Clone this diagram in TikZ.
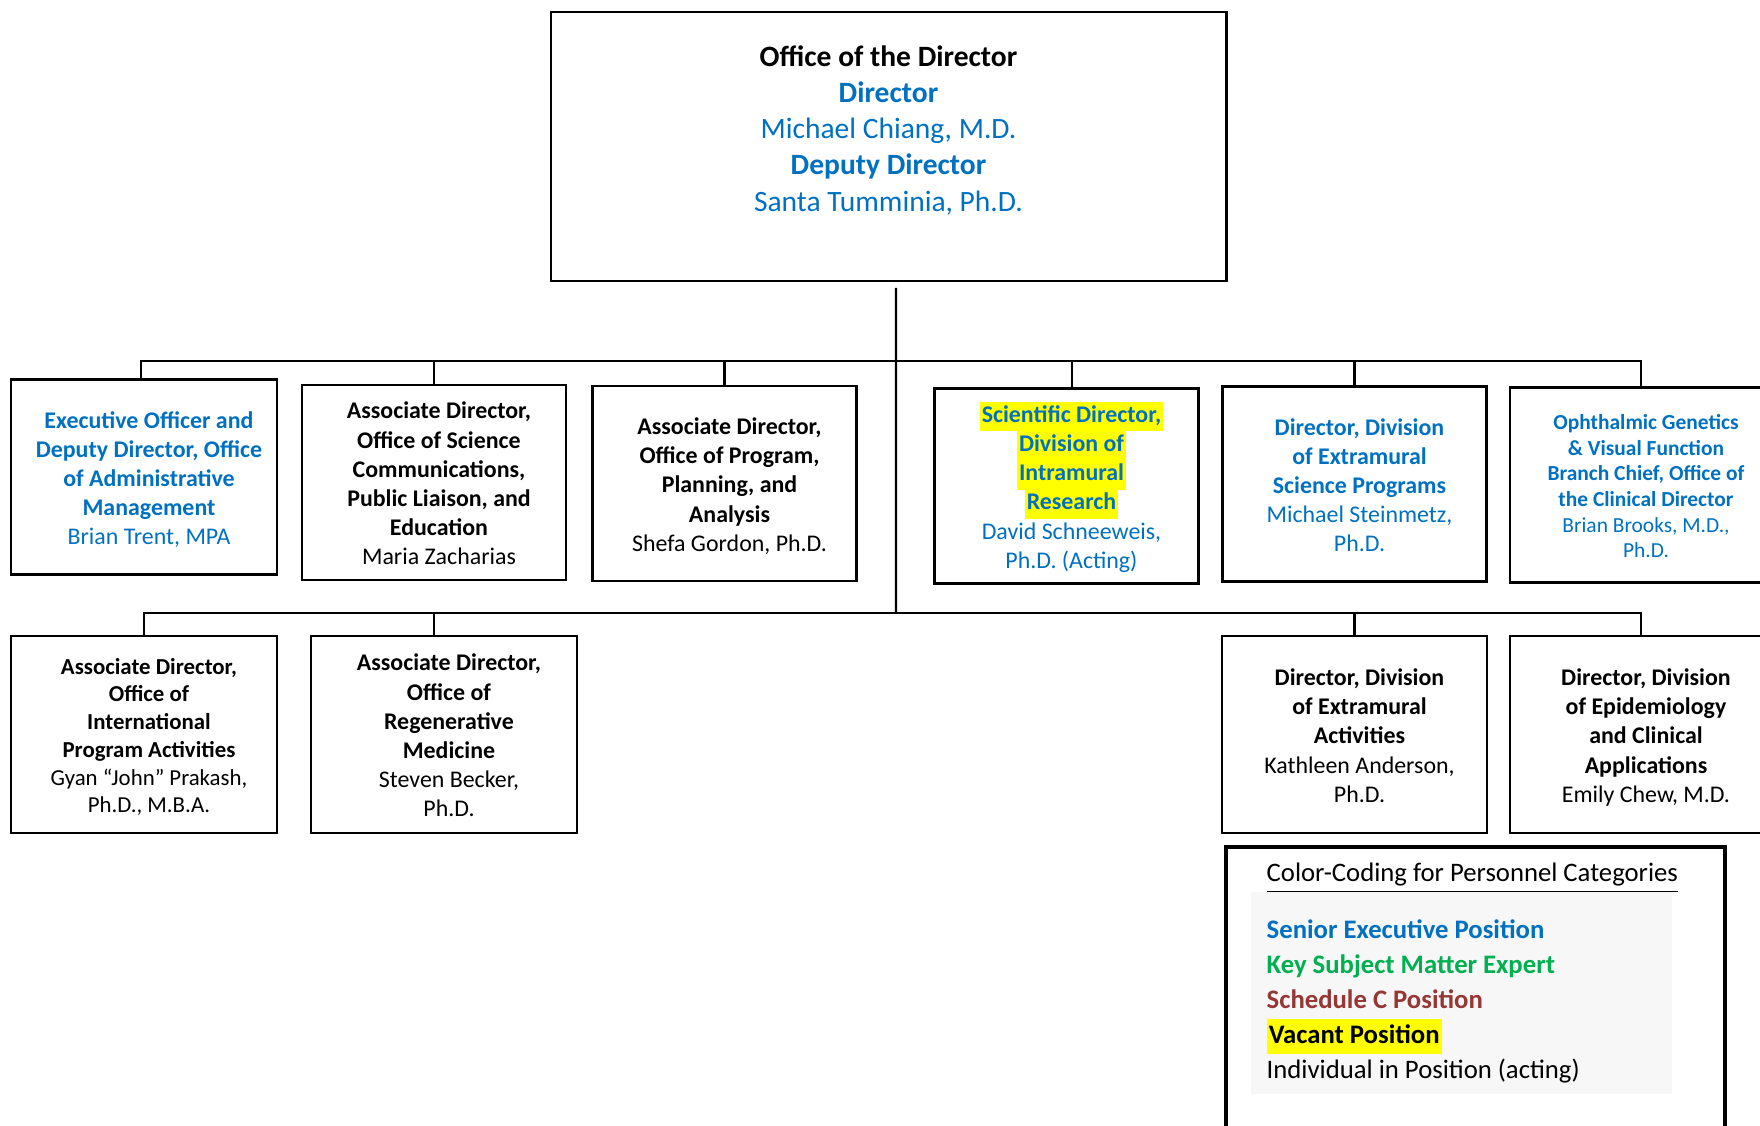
\documentclass[tikz,border=0pt]{standalone}
\usepackage{fontspec}
\setmainfont{Carlito}
\usepackage{xcolor}
\usepackage{tikz}
\usetikzlibrary{calc}
\definecolor{sesblue}{RGB}{0,112,192}
\definecolor{smegreen}{RGB}{0,176,80}
\definecolor{schedred}{RGB}{149,55,53}
\definecolor{vacyellow}{RGB}{255,255,0}
\newcommand{\vacant}[1]{{\setlength{\fboxsep}{0pt}\colorbox{vacyellow}{\strut\hspace{0.6pt}#1\hspace{0.6pt}}}}
\newcommand{\orgtext}[1]{\hspace*{1mm}\begin{tabular}{@{}c@{}}\noalign{\vskip2pt}#1\end{tabular}}
\tikzset{
	orgbox/.style={draw, line width=0.75pt, rectangle, inner sep=0pt,
		minimum width=2.64cm, minimum height=1.95cm, font={\fontsize{6.8}{8.3}\selectfont}},
	dirbox/.style={orgbox, align=center, line width=0.85pt, minimum width=6.75cm, minimum height=2.69cm,
		font={\fontsize{8.4}{10.3}\selectfont}},
	keyframe/.style={draw, line width=1.3pt, rectangle, inner sep=0pt, minimum width=4.99cm, minimum height=2.98cm},
	keytext/.style={inner sep=0pt, align=left, font={\fontsize{7.6}{9.9}\selectfont}},
	wire/.style={line width=0.7pt},
	thinwire/.style={line width=0.4pt}
}
\begin{document}
\begin{tikzpicture}
			\useasboundingbox (0.,0.) rectangle (17.6,11.25);
			
			\node[dirbox] (dir) at (8.885,9.785) {\textbf{Office of the Director}\\
				\textcolor{sesblue}{\textbf{Director}}\\
				\textcolor{sesblue}{Michael Chiang, M.D.}\\
				\textcolor{sesblue}{\textbf{Deputy Director}}\\
				\textcolor{sesblue}{Santa Tumminia, Ph.D.}\\ \mbox{}};
			
			\node[orgbox, text=sesblue, minimum width=2.66cm] (exo) at (1.44,6.48) {\orgtext{\textbf{Executive Officer and}\\
				\textbf{Deputy Director, Office}\\ \textbf{of Administrative}\\ \textbf{Management}\\ Brian Trent, MPA}};
			\node[orgbox] (osc) at (4.34,6.425) {\orgtext{\textbf{Associate Director,}\\ \textbf{Office of Science}\\
				\textbf{Communications,}\\ \textbf{Public Liaison, and}\\ \textbf{Education}\\ Maria Zacharias}};
			\node[orgbox] (oppa) at (7.245,6.415) {\orgtext{\textbf{Associate Director,}\\ \textbf{Office of Program,}\\
				\textbf{Planning, and}\\ \textbf{Analysis}\\ Shefa Gordon, Ph.D.}};
			\node[orgbox, text=sesblue] (sdir) at (10.665,6.39) {\orgtext{\vacant{\textbf{Scientific Director,}}\\
				\vacant{\textbf{Division of}}\\ \vacant{\textbf{Intramural}}\\ \vacant{\textbf{Research}}\\
				David Schneeweis,\\ Ph.D. (Acting)}};
			\node[orgbox, text=sesblue] (desp) at (13.545,6.41) {\orgtext{\textbf{Director, Division}\\ \textbf{of Extramural}\\
				\textbf{Science Programs}\\ Michael Steinmetz,\\ Ph.D.}};
			\node[orgbox, text=sesblue, minimum width=2.62cm, font={\fontsize{6.1}{7.3}\selectfont}] (ogvf) at (16.41,6.40)
				{\orgtext{\textbf{Ophthalmic Genetics}\\ \textbf{\& Visual Function}\\ \textbf{Branch Chief, Office of}\\
				\textbf{the Clinical Director}\\ Brian Brooks, M.D.,\\ Ph.D.}};
			
			\node[orgbox, minimum width=2.66cm, minimum height=1.97cm, font={\fontsize{6.5}{7.9}\selectfont}] (oipa) at (1.44,3.905)
				{\orgtext{\textbf{Associate Director,}\\ \textbf{Office of}\\ \textbf{International}\\ \textbf{Program Activities}\\
				Gyan ``John'' Prakash,\\ Ph.D., M.B.A.}};
			\node[orgbox, minimum width=2.66cm, minimum height=1.97cm] (orm) at (4.44,3.905) {\orgtext{\textbf{Associate Director,}\\
				\textbf{Office of}\\ \textbf{Regenerative}\\ \textbf{Medicine}\\ Steven Becker,\\ Ph.D.}};
			\node[orgbox, minimum width=2.65cm, minimum height=1.97cm] (dea) at (13.545,3.905) {\orgtext{\textbf{Director, Division}\\
				\textbf{of Extramural}\\ \textbf{Activities}\\ Kathleen Anderson,\\ Ph.D.}};
			\node[orgbox, minimum width=2.62cm, minimum height=1.97cm] (deca) at (16.41,3.905) {\orgtext{\textbf{Director, Division}\\
				\textbf{of Epidemiology}\\ \textbf{and Clinical}\\ \textbf{Applications}\\ Emily Chew, M.D.}};
			
			\coordinate (busA) at (8.96,7.64);
			\coordinate (busB) at (8.96,5.12);
			\draw[wire, shorten <=1.5pt] ([xshift=0.75mm]dir.south) -- (busB);
			\draw[wire] ([xshift=-0.3mm]exo.north) |- (busA) -| (ogvf.north);
			\draw[thinwire] (osc.north) -- (osc.north |- busA);
			\draw[wire] (oppa.north) -- (oppa.north |- busA);
			\draw[thinwire] ([xshift=0.55mm]sdir.north) -- ([xshift=0.55mm]sdir.north |- busA);
			\draw[wire] (desp.north) -- (desp.north |- busA);
			\draw[wire] (oipa.north) |- (busB) -| (deca.north);
			\draw[wire] ([xshift=-1mm]orm.north) -- ([xshift=-1mm]orm.north |- busB);
			\draw[wire] (dea.north) -- (dea.north |- busB);
			
			\fill[black!3] (12.51,0.31) rectangle (16.72,2.33);
			\node[keyframe] (keybox) at (14.755,1.29) {};
			\node[keytext, anchor=west] (keylist) at (12.66,1.52) {\underline{Color-Coding for Personnel Categories}\\[6.3pt]
				\textcolor{sesblue}{\textbf{Senior Executive Position}}\\
				\textcolor{smegreen}{\textbf{Key Subject Matter Expert}}\\
				\textcolor{schedred}{\textbf{Schedule C Position}}\\
				\vacant{\textbf{Vacant Position}}\\
				Individual in Position (acting)};
		\end{tikzpicture}
\end{document}
